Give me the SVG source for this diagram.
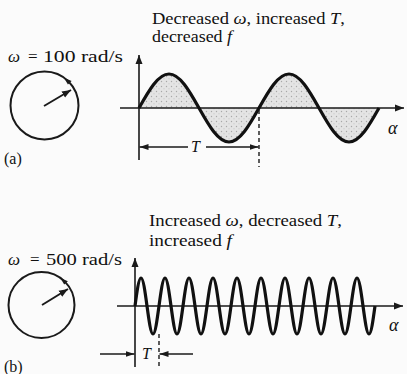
<svg xmlns="http://www.w3.org/2000/svg" width="407" height="374" viewBox="0 0 407 374">
<style>
.t{font-family:"Liberation Serif","Times New Roman",serif;font-size:16px;fill:#111}
.w{font-size:17px}
.i{font-style:italic}
.ax{stroke:#1a1a1a;stroke-width:1.6;fill:none}
.wave{stroke:#111;stroke-width:3.2;fill:none;stroke-linejoin:round}
.dim{stroke:#1a1a1a;stroke-width:1.3;fill:none}
.dash{stroke:#1a1a1a;stroke-width:1.4;stroke-dasharray:4 3;fill:none}
.circ{stroke:#1a1a1a;stroke-width:2;fill:none}
.ph{stroke:#1a1a1a;stroke-width:2;fill:none}
</style>
<defs>
<marker id="ah" markerUnits="userSpaceOnUse" markerWidth="10" markerHeight="8" refX="9" refY="4" orient="auto">
<path d="M0,0.5 L9,4 L0,7.5 Z" fill="#1a1a1a"/>
</marker>
<marker id="ahs" markerUnits="userSpaceOnUse" markerWidth="10" markerHeight="8" refX="9" refY="4" orient="auto">
<path d="M0,1 L9,4 L0,7 Z" fill="#1a1a1a"/>
</marker>
<pattern id="stip" width="5" height="5" patternUnits="userSpaceOnUse">
<rect width="5" height="5" fill="#e4e4e4"/>
<circle cx="1.5" cy="1.5" r="0.7" fill="#a8a8a8"/>
<circle cx="4" cy="3.8" r="0.5" fill="#b8b8b8"/>
</pattern>
</defs>
<rect width="407" height="374" fill="#fbfbfb"/>

<g id="panel-a">
<g id="label-a">
<text class="t" x="152" y="24" textLength="193" lengthAdjust="spacingAndGlyphs">Decreased <tspan class="i">ω</tspan>, increased <tspan class="i">T</tspan>,</text>
<text class="t" x="152" y="42" textLength="80" lengthAdjust="spacingAndGlyphs">decreased <tspan class="i">f</tspan></text>
<text class="t w" x="8" y="62"><tspan class="i">ω</tspan><tspan x="28">=</tspan><tspan x="43" textLength="80" lengthAdjust="spacingAndGlyphs">100 rad/s</tspan></text>
<text class="t" x="4" y="164">(a)</text>
</g>
<g id="phasor-a">
<circle class="circ" cx="44.5" cy="105.5" r="34"/>
<polygon points="64,77.65 71.63,81.08 67.91,84.42" fill="#1a1a1a"/>
<line class="ph" x1="44" y1="106" x2="71" y2="90" marker-end="url(#ah)"/>
</g>
<g id="wave-a">
<path d="M139,108 C148.78,90.58 158.14,74 169,74 S189.22,90.58 199,108 S218.14,142 229,142 S249.22,125.42 259,108 S278.14,74 289,74 S309.22,90.58 319,108 S338.14,142 349,142 S369.22,125.42 379,108 Z" fill="url(#stip)" stroke="none"/>
<line class="ax" x1="120" y1="108" x2="404" y2="108" marker-end="url(#ah)"/>
<line class="ax" x1="139" y1="160" x2="139" y2="55" marker-end="url(#ah)"/>
<path class="wave" d="M139,108 C148.78,90.58 158.14,74 169,74 S189.22,90.58 199,108 S218.14,142 229,142 S249.22,125.42 259,108 S278.14,74 289,74 S309.22,90.58 319,108 S338.14,142 349,142 S369.22,125.42 379,108"/>
<text class="t i" x="388" y="134" style="font-size:18px">α</text>
</g>
</g>

<g id="panel-b">
<g id="label-b">
<text class="t" x="149" y="226" textLength="193" lengthAdjust="spacingAndGlyphs">Increased <tspan class="i">ω</tspan>, decreased <tspan class="i">T</tspan>,</text>
<text class="t" x="149" y="246" textLength="83" lengthAdjust="spacingAndGlyphs">increased <tspan class="i">f</tspan></text>
<text class="t w" x="8" y="265"><tspan class="i">ω</tspan><tspan x="30">=</tspan><tspan x="46" textLength="76" lengthAdjust="spacingAndGlyphs">500 rad/s</tspan></text>
<text class="t" x="4" y="372">(b)</text>
</g>
<g id="phasor-b">
<circle class="circ" cx="41.5" cy="305" r="33"/>
<polygon points="60.43,277.97 67.88,281.25 64.16,284.59" fill="#1a1a1a"/>
<line class="ph" x1="42" y1="305" x2="68" y2="289" marker-end="url(#ah)"/>
</g>
<g id="wave-b">
<line class="ax" x1="117" y1="306" x2="403" y2="306" marker-end="url(#ah)"/>
<line class="ax" x1="135" y1="367" x2="135" y2="258" marker-end="url(#ah)"/>
<path class="wave" d="M135,306 C136.96,291.66 138.83,278 141,278 S145.04,291.66 147,306 S150.83,334 153,334 S157.04,320.34 159,306 S162.83,278 165,278 S169.04,291.66 171,306 S174.83,334 177,334 S181.04,320.34 183,306 S186.83,278 189,278 S193.04,291.66 195,306 S198.83,334 201,334 S205.04,320.34 207,306 S210.83,278 213,278 S217.04,291.66 219,306 S222.83,334 225,334 S229.04,320.34 231,306 S234.83,278 237,278 S241.04,291.66 243,306 S246.83,334 249,334 S253.04,320.34 255,306 S258.83,278 261,278 S265.04,291.66 267,306 S270.83,334 273,334 S277.04,320.34 279,306 S282.83,278 285,278 S289.04,291.66 291,306 S294.83,334 297,334 S301.04,320.34 303,306 S306.83,278 309,278 S313.04,291.66 315,306 S318.83,334 321,334 S325.04,320.34 327,306 S330.83,278 333,278 S337.04,291.66 339,306 S342.83,334 345,334 S349.04,320.34 351,306 S354.83,278 357,278 S361.04,291.66 363,306 S366.83,334 369,334 S373.04,320.34 375,306"/>
<text class="t i" x="389" y="331" style="font-size:18px">α</text>
</g>
</g>

<g id="connectors">
<line class="dash" x1="259" y1="110" x2="259" y2="167"/>
<line class="dim" x1="188" y1="147" x2="139.5" y2="147" marker-end="url(#ahs)"/>
<line class="dim" x1="206" y1="147" x2="258.5" y2="147" marker-end="url(#ahs)"/>
<text class="t i" x="191" y="152">T</text>
<line class="dash" x1="159" y1="334" x2="159" y2="369"/>
<line class="dim" x1="100" y1="354" x2="134.5" y2="354" marker-end="url(#ahs)"/>
<line class="dim" x1="193" y1="354" x2="159.5" y2="354" marker-end="url(#ahs)"/>
<text class="t i" x="142" y="359">T</text>
</g>
</svg>
